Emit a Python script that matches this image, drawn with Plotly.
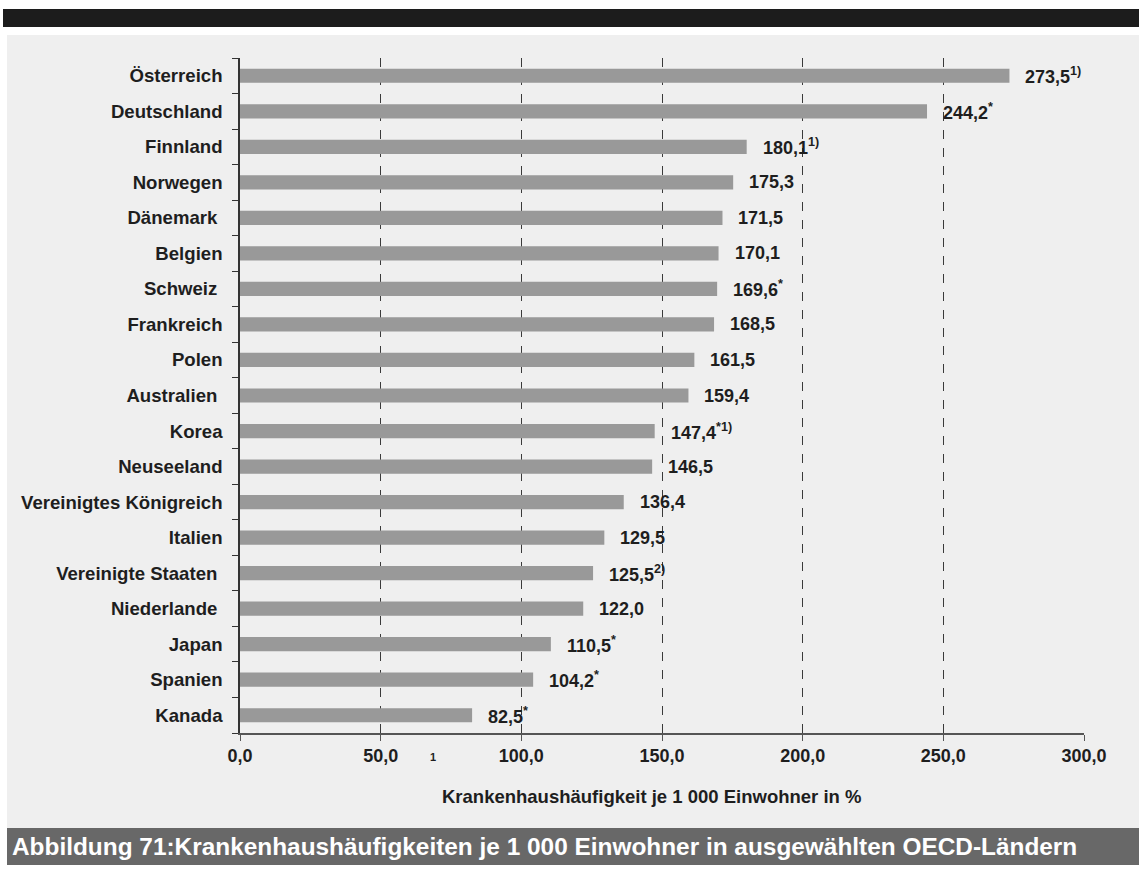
import plotly.graph_objects as go

# Hospital admissions per 1 000 inhabitants, selected OECD countries
countries = [
    "Österreich", "Deutschland", "Finnland", "Norwegen", "Dänemark ",
    "Belgien", "Schweiz ", "Frankreich", "Polen", "Australien ",
    "Korea", "Neuseeland", "Vereinigtes Königreich", "Italien",
    "Vereinigte Staaten ", "Niederlande ", "Japan", "Spanien", "Kanada",
]
values = [
    273.5, 244.2, 180.1, 175.3, 171.5,
    170.1, 169.6, 168.5, 161.5, 159.4,
    147.4, 146.5, 136.4, 129.5,
    125.5, 122.0, 110.5, 104.2, 82.5,
]
notes = [
    "1)", "*", "1)", "", "",
    "", "*", "", "", "",
    "*1)", "", "", "",
    "2)", "", "*", "*", "*",
]
tick_vals = [0, 50, 100, 150, 200, 250, 300]
tick_text = ["0,0", "50,0", "100,0", "150,0", "200,0", "250,0", "300,0"]

x_title = "Krankenhaushäufigkeit je 1 000 Einwohner in %"
caption = "Abbildung 71:Krankenhaushäufigkeiten je 1 000 Einwohner in ausgewählten OECD-Ländern"

FONT = "Liberation Sans, Arial, sans-serif"
TXT = "#1e1e1e"

W, H = 1139, 870
L, R, T, B = 240, 55, 58, 137
pw, ph = W - L - R, H - T - B


def px_x(p):
    return (p - L) / pw


def px_y(p):
    return (H - B - p) / ph


fig = go.Figure()
fig.add_trace(go.Bar(
    x=values, y=countries, orientation="h",
    marker=dict(color="#999999", line=dict(width=0)),
    width=0.4, hoverinfo="x+y",
))

# value labels beside each bar
for c, v, n in zip(countries, values, notes):
    lbl = f"{v:.1f}".replace(".", ",")
    if n:
        lbl += f"<sup>{n}</sup>"
    fig.add_annotation(
        x=v, y=c, xref="x", yref="y", text=f"<b>{lbl}</b>",
        showarrow=False, xanchor="left", xshift=14,
        font=dict(family=FONT, size=18, color=TXT),
    )

# axis title and stray footnote mark
fig.add_annotation(
    x=px_x(651), y=px_y(796), xref="paper", yref="paper", yanchor="middle",
    text=f"<b>{x_title}</b>", showarrow=False,
    font=dict(family=FONT, size=18.5, color=TXT),
)
fig.add_annotation(
    x=68.6, y=px_y(757), xref="x", yref="paper", yanchor="middle",
    text="<b>1</b>", showarrow=False,
    font=dict(family=FONT, size=11, color=TXT),
)
fig.add_annotation(
    x=px_x(10), y=px_y(846), xref="paper", yref="paper", text=f"<b>{caption}</b>",
    showarrow=False, xanchor="left", yanchor="middle",
    font=dict(family=FONT, size=24.4, color="#ffffff"),
)

# background bands and panel
fig.add_shape(type="rect", xref="paper", yref="paper", layer="below",
              x0=px_x(3), x1=px_x(W), y0=px_y(27), y1=px_y(9),
              fillcolor="#1c1c1c", line=dict(width=0))
fig.add_shape(type="rect", xref="paper", yref="paper", layer="below",
              x0=px_x(7), x1=px_x(W), y0=px_y(828), y1=px_y(35),
              fillcolor="#efefef", line=dict(width=0))
fig.add_shape(type="rect", xref="paper", yref="paper", layer="below",
              x0=px_x(7), x1=px_x(W), y0=px_y(865), y1=px_y(828),
              fillcolor="#686868", line=dict(width=0))

fig.update_layout(
    width=W, height=H,
    margin=dict(l=L, r=R, t=T, b=B, pad=0),
    paper_bgcolor="#ffffff", plot_bgcolor="rgba(0,0,0,0)",
    showlegend=False, bargap=0.6,
    font=dict(family=FONT, color=TXT),
    xaxis=dict(
        range=[0, 300], tickvals=tick_vals,
        ticktext=[f"<b>{t}</b>" for t in tick_text],
        showgrid=True, gridcolor="#3a3a3a", griddash="dash", gridwidth=1,
        showline=True, linecolor="#555555", linewidth=1.5,
        ticks="outside", ticklen=6, tickcolor="#555555",
        tickfont=dict(family=FONT, size=18, color=TXT),
        zeroline=False, fixedrange=True,
    ),
    yaxis=dict(
        categoryorder="array", categoryarray=countries, autorange="reversed",
        tickvals=countries, ticktext=[f"<b>{c}</b>" for c in countries],
        showline=True, linecolor="#333333", linewidth=1.5,
        ticks="outside", ticklen=6, tickcolor="#333333", tickson="boundaries",
        tickfont=dict(family=FONT, size=18.6, color=TXT),
        ticklabelstandoff=12, showgrid=False, fixedrange=True,
    ),
)

fig.write_html("out.html")
